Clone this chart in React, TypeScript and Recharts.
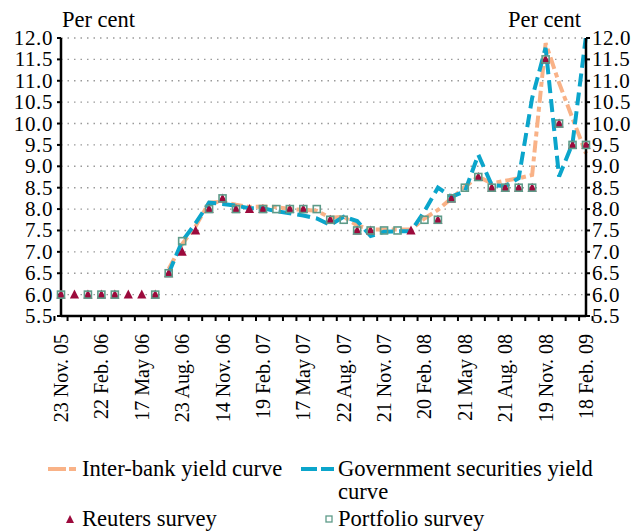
import React from 'react';
import { ComposedChart, Line, XAxis, YAxis, CartesianGrid, Label } from 'recharts';

const categories = [
  '23 Nov. 05', '19 Dec. 05', '23 Jan. 06', '22 Feb. 06', '27 Mar. 06', '24 Apr. 06',
  '17 May 06', '19 Jun. 06', '24 Jul. 06', '23 Aug. 06', '25 Sep. 06', '23 Oct. 06',
  '14 Nov. 06', '18 Dec. 06', '22 Jan. 07', '19 Feb. 07', '26 Mar. 07', '23 Apr. 07',
  '17 May 07', '25 Jun. 07', '23 Jul. 07', '22 Aug. 07', '24 Sep. 07', '22 Oct. 07',
  '21 Nov. 07', '17 Dec. 07', '28 Jan. 08', '20 Feb. 08', '25 Mar. 08', '28 Apr. 08',
  '21 May 08', '23 Jun. 08', '21 Jul. 08', '21 Aug. 08', '22 Sep. 08', '20 Oct. 08',
  '19 Nov. 08', '22 Dec. 08', '19 Jan. 09', '18 Feb. 09',
];

const interbank = [
  null, null, null, null, null, null, null, null,
  6.6, 7.18, 7.6, 8.15, 8.17, 8.1, 8.05, 8.06, 8.05, 8.0, 7.98, 7.96,
  7.8, 7.82, 7.62, 7.52, 7.52, 7.52, 7.52, 7.78, 7.98, 8.25,
  8.52, 8.76, 8.6, 8.66, 8.72, 8.8, 11.88, 10.95, 10.12, 9.3,
];

const govSecurities = [
  null, null, null, null, null, null, null, null,
  6.5, 7.25, 7.67, 8.15, 8.12, 8.08, 8.02, 8.02, 7.95, 7.9, 7.85, 7.78,
  7.63, 7.82, 7.72, 7.37, 7.47, 7.48, 7.48, 7.95, 8.5, 8.29,
  8.41, 9.27, 8.56, 8.54, 8.72, 10.6, 11.77, 8.76, 9.54, 12.05,
];

const reuters = [
  6.0, 6.0, 6.0, 6.0, 6.0, 6.0, 6.0, 6.0,
  6.5, 7.0, 7.5, 8.0, 8.25, 8.0, 8.0, 8.0, null, 8.0, 8.0, null,
  7.75, null, 7.5, 7.5, null, null, 7.5, null, 7.75, 8.25,
  null, 8.75, 8.5, 8.5, 8.5, 8.5, 11.5, 10.0, 9.5, 9.5,
];

const portfolio = [
  6.0, null, 6.0, 6.0, 6.0, null, null, 6.0,
  6.5, 7.25, null, 8.0, 8.25, 8.0, null, 8.0, 8.0, 8.0, 8.0, 8.0,
  7.75, 7.75, 7.5, 7.5, 7.5, 7.5, null, 7.75, 7.75, 8.25,
  8.5, 8.75, 8.5, 8.5, 8.5, 8.5, 11.5, 10.0, 9.5, 9.5,
];

const yTicks = [5.5, 6.0, 6.5, 7.0, 7.5, 8.0, 8.5, 9.0, 9.5, 10.0, 10.5, 11.0, 11.5, 12.0];

const legendLabels = {
  interbank: 'Inter-bank yield curve',
  gov1: 'Government securities yield',
  gov2: 'curve',
  reuters: 'Reuters survey',
  portfolio: 'Portfolio survey',
};

const data = categories.map((date, i) => ({
  date,
  interbank: interbank[i],
  govSecurities: govSecurities[i],
  reuters: reuters[i],
  portfolio: portfolio[i],
}));

const FONT = 'Liberation Serif, DejaVu Serif, serif';
const ORANGE = '#F9B287';
const BLUE = '#0BA5CB';
const RED = '#9C0A3C';
const GREEN = '#5E9B89';

const W = 631;
const H = 430;
const LEFT_W = 61;
const RIGHT_W = 45;
const BAND = (W - LEFT_W - RIGHT_W) / categories.length;

const XTick = (props: any) => {
  const { x, y, payload, index } = props;
  const showLabel = index % 3 === 0;
  return (
    <g>
      {index === 0 && (
        <line x1={x - BAND / 2} y1={y} x2={x - BAND / 2} y2={y + 5} stroke="#000" strokeWidth={2} />
      )}
      <line x1={x + BAND / 2} y1={y} x2={x + BAND / 2} y2={y + 5} stroke="#000" strokeWidth={2} />
      {showLabel && (
        <text
          transform={`translate(${x},${y + 18}) rotate(-90)`}
          textAnchor="end"
          dominantBaseline="central"
          style={{ fontSize: 20, fontFamily: FONT }}
          fill="#000"
        >
          {payload.value}
        </text>
      )}
    </g>
  );
};

const YTick = (props: any) => {
  const { x, y, payload, textAnchor } = props;
  return (
    <text
      x={x}
      y={y}
      textAnchor={textAnchor}
      dominantBaseline="central"
      style={{ fontSize: 21, fontFamily: FONT, letterSpacing: '0.6px' }}
      fill="#000"
    >
      {Number(payload.value).toFixed(1)}
    </text>
  );
};

const triangleDot = (p: any) => {
  const { cx, cy, index } = p;
  if (cx == null || cy == null || p.value == null) return <g key={`t${index}`} />;
  return (
    <polygon
      key={`t${index}`}
      points={`${cx},${cy - 5} ${cx - 4.6},${cy + 4} ${cx + 4.6},${cy + 4}`}
      fill={RED}
    />
  );
};

const squareDot = (p: any) => {
  const { cx, cy, index } = p;
  if (cx == null || cy == null || p.value == null) return <g key={`s${index}`} />;
  return (
    <rect
      key={`s${index}`}
      x={cx - 3.5}
      y={cy - 3.5}
      width={7}
      height={7}
      fill="none"
      stroke={GREEN}
      strokeWidth={1.6}
    />
  );
};

const PerCentLeft = (props: any) => {
  const vb = props.viewBox || {};
  return (
    <text x={vb.x + vb.width + 1} y={vb.y - 11} style={{ fontSize: 22.5, fontFamily: FONT }} fill="#000" textAnchor="start">
      Per cent
    </text>
  );
};

const PerCentRight = (props: any) => {
  const vb = props.viewBox || {};
  return (
    <text x={vb.x - 5} y={vb.y - 11} style={{ fontSize: 22.5, fontFamily: FONT }} fill="#000" textAnchor="end">
      Per cent
    </text>
  );
};

const Legend = () => (
  <svg width={W} height={100} style={{ position: 'absolute', left: 0, top: 432 }}>
    <g style={{ fontSize: 22.6, fontFamily: FONT }} fill="#000">
      <line x1={48} y1={37} x2={66} y2={37} stroke={ORANGE} strokeWidth={4} />
      <line x1={69} y1={37} x2={76} y2={37} stroke={ORANGE} strokeWidth={4} />
      <text x={82} y={44}>{legendLabels.interbank}</text>
      <line x1={301} y1={37} x2={317} y2={37} stroke={BLUE} strokeWidth={4} />
      <line x1={321} y1={37} x2={334} y2={37} stroke={BLUE} strokeWidth={4} />
      <text x={338} y={44}>{legendLabels.gov1}</text>
      <text x={338} y={67}>{legendLabels.gov2}</text>
      <polygon points="70,83 66,91 74,91" fill={RED} />
      <text x={82} y={94}>{legendLabels.reuters}</text>
      <rect x={326} y={84} width={6} height={6} fill="none" stroke={GREEN} strokeWidth={1.3} />
      <text x={338} y={94}>{legendLabels.portfolio}</text>
    </g>
  </svg>
);

export default function App() {
  return (
    <div style={{ position: 'absolute', left: 0, top: 0, width: W, height: 532, background: '#fff', fontFamily: FONT }}>
      <ComposedChart width={W} height={H} data={data} margin={{ top: 38, right: 0, bottom: 0, left: 0 }}>
        <CartesianGrid
          yAxisId="left"
          vertical={false}
          stroke="#9a9a9a"
          strokeWidth={1.4}
          strokeDasharray="1.5 5"
        />
        <XAxis
          dataKey="date"
          interval={0}
          height={H - 38 - 278}
          tick={<XTick />}
          tickLine={false}
          tickSize={0}
          tickMargin={0}
          axisLine={{ stroke: '#000', strokeWidth: 2.5 }}
        />
        <YAxis
          yAxisId="left"
          width={LEFT_W}
          domain={[5.5, 12]}
          ticks={yTicks}
          allowDataOverflow
          interval={0}
          tick={<YTick />}
          tickSize={4}
          tickMargin={4}
          tickLine={{ stroke: '#000', strokeWidth: 2 }}
          axisLine={{ stroke: '#000', strokeWidth: 2.5 }}
        >
          <Label content={<PerCentLeft />} />
        </YAxis>
        <YAxis
          yAxisId="right"
          orientation="right"
          width={RIGHT_W}
          domain={[5.5, 12]}
          ticks={yTicks}
          allowDataOverflow
          interval={0}
          tick={<YTick />}
          tickSize={4}
          tickMargin={2}
          tickLine={{ stroke: '#000', strokeWidth: 2 }}
          axisLine={{ stroke: '#000', strokeWidth: 2.5 }}
        >
          <Label content={<PerCentRight />} />
        </YAxis>
        <Line
          yAxisId="left"
          dataKey="reuters"
          stroke="none"
          dot={triangleDot}
          activeDot={false}
          isAnimationActive={false}
        />
        <Line
          yAxisId="left"
          dataKey="interbank"
          stroke={ORANGE}
          strokeWidth={4}
          strokeDasharray="12 4 5 4"
          dot={false}
          activeDot={false}
          isAnimationActive={false}
        />
        <Line
          yAxisId="left"
          dataKey="govSecurities"
          stroke={BLUE}
          strokeWidth={4}
          strokeDasharray="13 6"
          dot={false}
          activeDot={false}
          isAnimationActive={false}
        />
        <Line
          yAxisId="right"
          dataKey="portfolio"
          stroke="none"
          dot={squareDot}
          activeDot={false}
          isAnimationActive={false}
        />
      </ComposedChart>
      <Legend />
    </div>
  );
}
